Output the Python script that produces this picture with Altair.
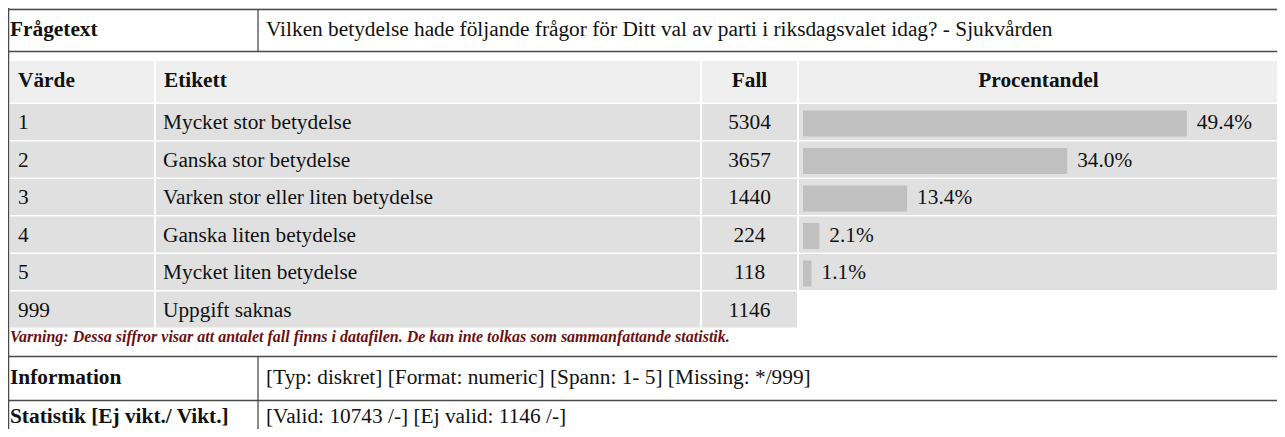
import altair as alt
import pandas as pd

# ---------------- data ----------------
values = ["1", "2", "3", "4", "5", "999"]
labels = [
    "Mycket stor betydelse",
    "Ganska stor betydelse",
    "Varken stor eller liten betydelse",
    "Ganska liten betydelse",
    "Mycket liten betydelse",
    "Uppgift saknas",
]
counts = [5304, 3657, 1440, 224, 118, 1146]
percents = [49.4, 34.0, 13.4, 2.1, 1.1, None]

headers = ["Värde", "Etikett", "Fall", "Procentandel"]
question_label = "Frågetext"
question = "Vilken betydelse hade följande frågor för Ditt val av parti i riksdagsvalet idag? - Sjukvården"
warning = ("Varning: Dessa siffror visar att antalet fall finns i datafilen. "
           "De kan inte tolkas som sammanfattande statistik.")
info_label = "Information"
info_text = "[Typ: diskret] [Format: numeric] [Spann: 1- 5] [Missing: */999]"
stat_label = "Statistik [Ej vikt./ Vikt.]"
stat_text = "[Valid: 10743 /-] [Ej valid: 1146 /-]"

# ---------------- layout (page pixel coordinates) ----------------
W, H = 1269, 421
XD = [8, 1277]
YD = [8, 429]
FONT = "Liberation Serif"
FS = 21.33

COLS = [(10, 154), (156, 700), (702, 797), (799, 1278)]
HEAD = (61, 102.5)
ROW0, PITCH, ROWH = 104, 37.5, 36
TXT_OFF = 25          # baseline offset inside a row
BAR_T, BAR_B = 6.5, 32.5
BAR_X0 = 795           # plot px where 0 % sits
PX_PER_PCT = 7.77
LINE_COLOR = "#4a4a4a"


def xs():
    return alt.Scale(domain=XD, range=[0, W], nice=False, zero=False)


def ys():
    return alt.Scale(domain=YD, range=[0, H], nice=False, zero=False)


def pscale():
    return alt.Scale(domain=[0, 100], range=[BAR_X0, BAR_X0 + 100 * PX_PER_PCT],
                     nice=False, zero=False)


def row_top(i):
    return ROW0 + i * PITCH


# cell backgrounds
cells = [dict(x=0, x2=1285, y=0, y2=9, fill="#efefef")]
for a, b in COLS:
    cells.append(dict(x=a, x2=b, y=HEAD[0], y2=HEAD[1], fill="#efefef"))
for i in range(len(values)):
    n = 4 if percents[i] is not None else 3
    for a, b in COLS[:n]:
        cells.append(dict(x=a, x2=b, y=row_top(i), y2=row_top(i) + ROWH, fill="#e0e0e0"))
cells_df = pd.DataFrame(cells)

bg = alt.Chart(cells_df).mark_rect(strokeWidth=0).encode(
    x=alt.X("x:Q", scale=xs(), axis=None),
    x2="x2:Q",
    y=alt.Y("y:Q", scale=ys(), axis=None),
    y2="y2:Q",
    color=alt.Color("fill:N", scale=None, legend=None),
)

# border lines
lines_df = pd.DataFrame([
    dict(x=0, x2=1285, y=9.5, y2=9.5),
    dict(x=0, x2=1285, y=51.5, y2=51.5),
    dict(x=258, x2=258, y=9.5, y2=51.5),
    dict(x=0, x2=1285, y=356.5, y2=356.5),
    dict(x=0, x2=1285, y=400.5, y2=400.5),
    dict(x=258, x2=258, y=356.5, y2=450),
    dict(x=8.6, x2=8.6, y=0, y2=450),
])
rules = alt.Chart(lines_df).mark_rule(color=LINE_COLOR, strokeWidth=1.3).encode(
    x=alt.X("x:Q", scale=xs(), axis=None),
    x2="x2:Q",
    y=alt.Y("y:Q", scale=ys(), axis=None),
    y2="y2:Q",
)

# bars
bar_rows = [i for i in range(len(values)) if percents[i] is not None]
bars_df = pd.DataFrame({
    "pct": [percents[i] for i in bar_rows],
    "yt": [row_top(i) + BAR_T for i in bar_rows],
    "yb": [row_top(i) + BAR_B for i in bar_rows],
    "yt_txt": [row_top(i) + TXT_OFF for i in bar_rows],
})
bars = alt.Chart(bars_df).transform_calculate(zero="0").mark_rect(
    color="#c0c0c0", strokeWidth=0
).encode(
    x=alt.X("zero:Q", scale=pscale(), axis=None),
    x2="pct:Q",
    y=alt.Y("yt:Q", scale=ys(), axis=None),
    y2="yb:Q",
)
pct_labels = alt.Chart(bars_df).transform_calculate(
    lab="format(datum.pct, '.1f') + '%'"
).mark_text(align="left", baseline="alphabetic", dx=10, font=FONT, fontSize=FS,
            color="#111").encode(
    x=alt.X("pct:Q", scale=pscale(), axis=None),
    y=alt.Y("yt_txt:Q", scale=ys(), axis=None),
    text="lab:N",
)

# texts
left_reg = [dict(x=266, y=36, t=question),
            dict(x=266, y=384, t=info_text),
            dict(x=266, y=423, t=stat_text)]
for i in range(len(values)):
    left_reg.append(dict(x=18, y=row_top(i) + TXT_OFF, t=values[i]))
    left_reg.append(dict(x=163, y=row_top(i) + TXT_OFF, t=labels[i]))
left_bold = [dict(x=10, y=36, t=question_label),
             dict(x=10, y=384, t=info_label),
             dict(x=10, y=423, t=stat_label),
             dict(x=18, y=87, t=headers[0]),
             dict(x=164, y=87, t=headers[1])]
center_bold = [dict(x=(COLS[2][0] + COLS[2][1]) / 2, y=87, t=headers[2]),
               dict(x=(COLS[3][0] + COLS[3][1]) / 2, y=87, t=headers[3])]
center_reg = [dict(x=(COLS[2][0] + COLS[2][1]) / 2, y=row_top(i) + TXT_OFF, t=str(counts[i]))
              for i in range(len(values))]
warn = [dict(x=10, y=342, t=warning)]


def text_layer(rows, align, weight="normal", style="normal", size=FS, color="#111"):
    return alt.Chart(pd.DataFrame(rows)).mark_text(
        align=align, baseline="alphabetic", font=FONT, fontSize=size,
        fontWeight=weight, fontStyle=style, color=color,
    ).encode(
        x=alt.X("x:Q", scale=xs(), axis=None),
        y=alt.Y("y:Q", scale=ys(), axis=None),
        text="t:N",
    )


chart = alt.layer(
    bg,
    bars,
    rules,
    text_layer(left_reg, "left"),
    text_layer(left_bold, "left", weight="bold"),
    text_layer(center_bold, "center", weight="bold"),
    text_layer(center_reg, "center"),
    pct_labels,
    text_layer(warn, "left", weight="bold", style="italic", size=16, color="#6b1010"),
).resolve_scale(x="independent").properties(
    width=W, height=H, padding=0,
    autosize=alt.AutoSizeParams(type="none"),
    background="white",
).configure_view(stroke=None)

chart.save("out.html", embed_options={"renderer": "svg", "actions": False})
